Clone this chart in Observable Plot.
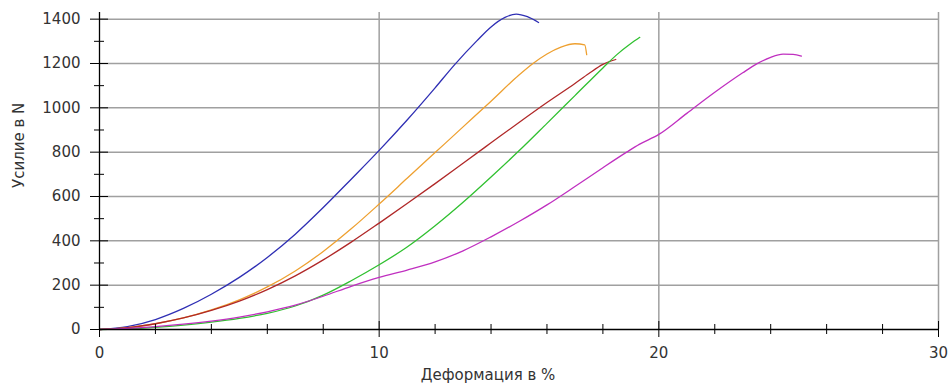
<!DOCTYPE html>
<html><head><meta charset="utf-8">
<script src="https://cdn.jsdelivr.net/npm/d3@7"></script>
<script src="https://cdn.jsdelivr.net/npm/@observablehq/plot@0.6"></script>
<style>html,body{margin:0;padding:0;background:#fff;}</style>
</head><body><div id="chart"></div>
<script>
const xMajorTicks = [0, 10, 20, 30];
const xMinorTicks = [2, 4, 6, 8, 12, 14, 16, 18, 22, 24, 26, 28];
const yMajorTicks = [0, 200, 400, 600, 800, 1000, 1200, 1400];
const yMinorTicks = [100, 300, 500, 700, 900, 1100, 1300];
const xAxisLabel = "Деформация в %";
const yAxisLabel = "Усилие в N";

const seriesNames = ["1", "2", "3", "4", "5"];
const seriesColors = ["#2f2fb4", "#eea030", "#b02828", "#30c030", "#c030c0"];

const strain1 = [0, 1, 2, 3, 4, 5, 6, 7, 8, 9, 10, 11, 12, 12.7, 13.5, 14, 14.5, 14.9, 15.3, 15.7];
const force1  = [0, 13, 45, 95, 159, 235, 325, 430, 550, 678, 808, 945, 1090, 1195, 1303, 1365, 1408, 1423, 1411, 1385];

const strain2 = [0, 1, 2, 3, 4, 5, 6, 7, 8, 9, 10, 11, 12, 13, 14, 15, 15.5, 16, 16.5, 17, 17.35, 17.42];
const force2  = [0, 8, 26, 52, 88, 134, 192, 264, 352, 454, 566, 682, 798, 914, 1030, 1148, 1200, 1243, 1274, 1289, 1284, 1240];

const strain3 = [0, 1, 2, 3, 4, 5, 6, 7, 8, 9, 10, 11, 12, 13, 14, 15, 16, 17, 17.5, 18, 18.46];
const force3  = [0, 8, 26, 52, 86, 128, 180, 242, 314, 394, 480, 568, 658, 750, 842, 934, 1024, 1110, 1155, 1196, 1218];

const strain4 = [0, 1, 2, 3, 4, 5, 6, 7, 8, 9, 10, 11, 12, 13, 14, 15, 16, 17, 18, 18.5, 19, 19.32];
const force4  = [0, 3, 10, 20, 33, 50, 73, 106, 155, 220, 292, 372, 468, 574, 688, 806, 930, 1055, 1180, 1240, 1290, 1318];

const strain5 = [0, 1, 2, 3, 4, 5, 6, 7, 8, 9, 10, 11, 12, 13, 14, 15, 16, 17, 18, 18.85, 19.3, 20, 21, 22, 23, 23.5, 24, 24.44, 24.8, 25.1];
const force5  = [0, 5, 13, 24, 38, 56, 80, 110, 150, 195, 235, 268, 305, 355, 418, 487, 562, 645, 730, 800, 835, 880, 975, 1070, 1158, 1198, 1228, 1242, 1241, 1233];

const strains = [strain1, strain2, strain3, strain4, strain5];
const forces = [force1, force2, force3, force4, force5];
const rows = [];
seriesNames.forEach((name, k) => {
  strains[k].forEach((x, i) => rows.push({series: name, x, y: forces[k][i]}));
});

const chart = Plot.plot({
  width: 951,
  height: 387,
  marginLeft: 99,
  marginRight: 13,
  marginTop: 12,
  marginBottom: 58,
  x: {domain: [0, 30]},
  y: {domain: [0, 1430]},
  color: {domain: seriesNames, range: seriesColors},
  style: {fontFamily: "DejaVu Sans", fontSize: "15px", color: "#333", background: "#fff"},
  marks: [
    Plot.ruleY(yMajorTicks.slice(1), {stroke: "#a0a0a0", strokeWidth: 1.5}),
    Plot.ruleX(xMajorTicks.slice(1), {stroke: "#a0a0a0", strokeWidth: 1.5}),
    Plot.line(rows, {x: "x", y: "y", z: "series", stroke: "series", strokeWidth: 1.3, curve: "monotone-x"}),
    Plot.ruleY([0], {stroke: "#000", strokeWidth: 1.3}),
    Plot.ruleX([0], {stroke: "#000", strokeWidth: 1.3}),
    Plot.axisY(yMajorTicks, {tickSize: 18, dx: 9, tickFormat: () => "", label: null, stroke: "#000"}),
    Plot.axisY(yMinorTicks, {tickSize: 10, dx: 5, tickFormat: () => "", label: null, stroke: "#000"}),
    Plot.axisY(yMajorTicks, {tickSize: 0, tickPadding: 19, tickFormat: d => String(d), label: null, fill: "#333"}),
    Plot.axisX(xMajorTicks, {tickSize: 16, dy: -8, tickFormat: () => "", label: null, stroke: "#000"}),
    Plot.axisX(xMinorTicks, {tickSize: 10, dy: -5, tickFormat: () => "", label: null, stroke: "#000"}),
    Plot.axisX(xMajorTicks, {tickSize: 0, tickPadding: 18, tickFormat: d => String(d), label: null, fill: "#333"}),
    Plot.text([xAxisLabel], {text: d => d, frameAnchor: "bottom", dy: 50, dx: -31, fill: "#333"}),
    Plot.text([yAxisLabel], {text: d => d, frameAnchor: "left", rotate: -90, dx: -80, dy: 17, fill: "#333"})
  ]
});
document.getElementById("chart").appendChild(chart);
</script>
</body></html>
